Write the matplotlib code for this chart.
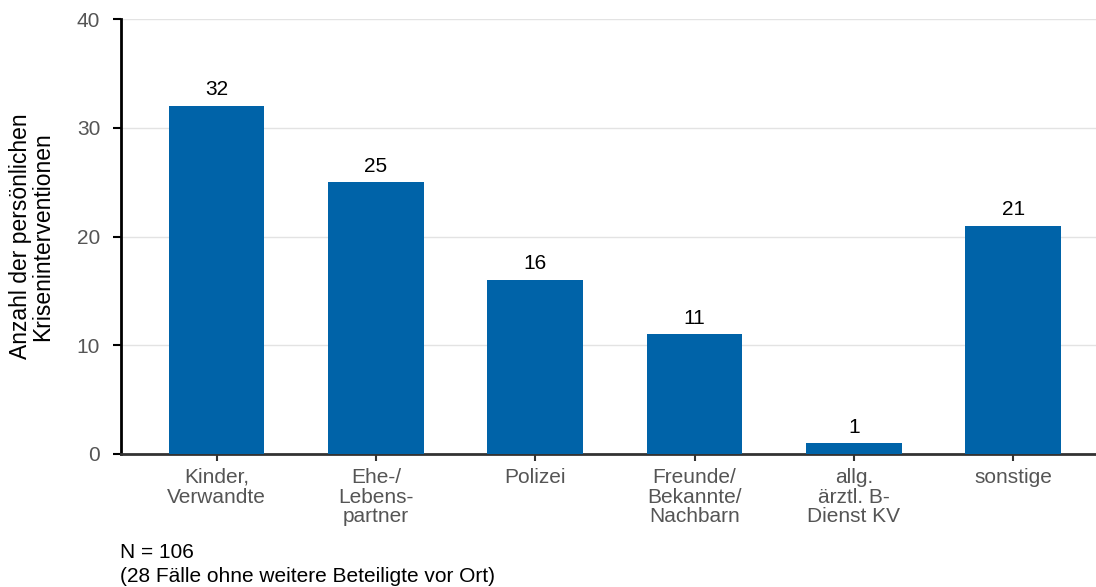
import matplotlib
matplotlib.use("Agg")
import matplotlib.pyplot as plt

plt.rcParams['font.family'] = ['Liberation Sans', 'DejaVu Sans']

categories = ['Kinder,\nVerwandte', 'Ehe-/\nLebens-\npartner', 'Polizei',
              'Freunde/\nBekannte/\nNachbarn', 'allg.\närztl. B-\nDienst KV', 'sonstige']
values = [32, 25, 16, 11, 1, 21]
yticks = [0, 10, 20, 30, 40]

fig = plt.figure(figsize=(10.96, 5.87), dpi=100)
ax = fig.add_axes([0.1104, 0.2266, 0.8896, 0.741])

x = range(len(values))
bars = ax.bar(x, values, width=0.6, color='#0063a8', zorder=3)
for i, v in zip(x, values):
    ax.text(i, v + 0.6, str(v), ha='center', va='bottom', fontsize=15, color='black')

ax.set_xlim(-0.6, 5.52)
ax.set_ylim(0, 40)
ax.set_yticks(yticks)
ax.set_xticks(list(x))
ax.set_xticklabels(categories, fontsize=15, color='#555555', linespacing=1.05)
ax.tick_params(axis='y', labelsize=15, labelcolor='#555555', length=6, width=1.5, color='black', pad=9)
ax.tick_params(axis='x', length=5, width=1.5, color='#333333', pad=5)
ax.grid(axis='y', color='#e3e3e3', linewidth=1, zorder=0)
for s in ['top', 'right']:
    ax.spines[s].set_visible(False)
ax.spines['left'].set_linewidth(2)
ax.spines['left'].set_color('black')
ax.spines['bottom'].set_linewidth(2)
ax.spines['bottom'].set_color('#333333')

ax.set_ylabel('Anzahl der persönlichen\nKriseninterventionen', fontsize=16.5, color='black', labelpad=16, linespacing=1.0)

fig.text(0.1095, 1 - 552 / 587, 'N = 106', fontsize=15, va='center', color='black')
fig.text(0.1095, 1 - 576 / 587, '(28 Fälle ohne weitere Beteiligte vor Ort)', fontsize=15, va='center', color='black')

fig.savefig('out.png', dpi=100)
